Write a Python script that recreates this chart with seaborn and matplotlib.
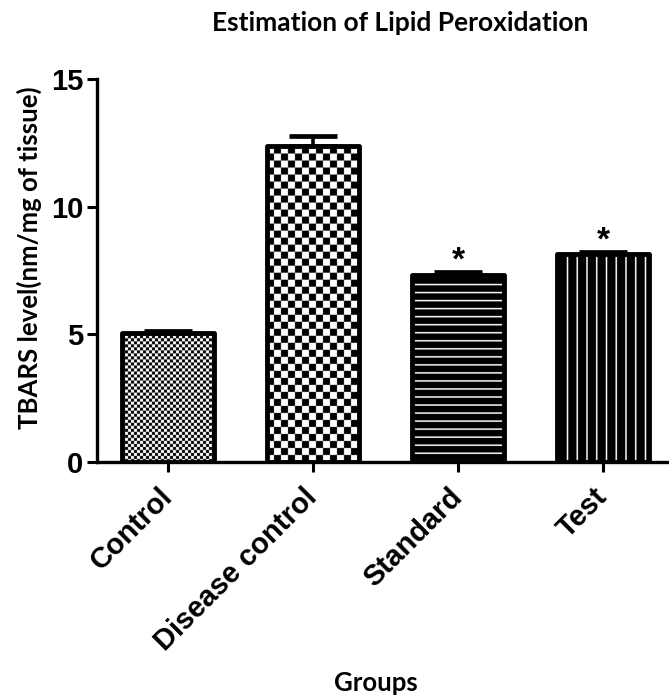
import numpy as np
import matplotlib
matplotlib.use("Agg")
import matplotlib.pyplot as plt
import seaborn as sns

# Group means and SEM of TBARS level (nm/mg of tissue)
groups = ["Control", "Disease control", "Standard", "Test"]
means = [5.05, 12.38, 7.32, 8.14]
sems = [0.10, 0.37, 0.12, 0.08]
marks = ["", "", "*", "*"]
y_ticks = [0, 5, 10, 15]

title = "Estimation of Lipid Peroxidation"
y_title = "TBARS level(nm/mg of tissue)"
x_title = "Groups"

sns.set_style("ticks")
plt.rcParams["font.family"] = ["Liberation Sans", "DejaVu Sans"]
plt.rcParams["text.color"] = "black"
plt.rcParams["xtick.color"] = "black"
plt.rcParams["ytick.color"] = "black"
plt.rcParams["axes.edgecolor"] = "black"

fig = plt.figure(figsize=(6.69, 6.98), dpi=100)
ax = fig.add_axes([0.145, 0.338, 0.855, 0.549])

sns.barplot(x=groups, y=means, color="white", saturation=1, edgecolor="black",
            linewidth=3.5, width=0.64, errorbar=None, ax=ax, zorder=3)

ax.set_xlim(-0.49, 3.455)
ax.set_ylim(0, 15)
ax.set_yticks(y_ticks)

# error bars (upper only)
ax.errorbar(np.arange(len(groups)), means, yerr=[np.zeros(len(sems)), sems],
            fmt="none", ecolor="black", elinewidth=2.6, capsize=17, capthick=3.4,
            zorder=2)

# fill patterns for each bar, clipped to the bar outline
def checker(h, w, s):
    yy, xx = np.mgrid[0:h, 0:w]
    return (((yy // s) + (xx // s)) % 2).astype(float)

def hstripes(h, w, period, thick):
    yy, xx = np.mgrid[0:h, 0:w]
    return np.where((yy % period) < thick, 0.0, 1.0)

def vstripes(h, w, period, thick):
    yy, xx = np.mgrid[0:h, 0:w]
    return np.where((xx % period) < thick, 0.0, 1.0)

ss = 4  # supersampling factor
for i, p in enumerate(ax.patches[:len(groups)]):
    p.set_facecolor("none")
    p.set_joinstyle("round")
    x0, w = p.get_x(), p.get_width()
    h = p.get_height()
    (px0, py0), (px1, py1) = ax.transData.transform([(x0, 0), (x0 + w, h)])
    W = int(abs(px1 - px0) * ss) + 1
    H = int(abs(py1 - py0) * ss) + 1
    if i == 0:
        tex = checker(H, W, int(3.2 * ss))
    elif i == 1:
        tex = checker(H, W, int(7.2 * ss))
    elif i == 2:
        tex = hstripes(H, W, int(8.0 * ss), int(1.5 * ss))
    else:
        tex = vstripes(H, W, int(9.8 * ss), int(1.6 * ss))
    im = ax.imshow(tex, cmap="gray_r", vmin=0, vmax=1, extent=(x0, x0 + w, h, 0),
                   aspect="auto", interpolation="antialiased", zorder=2.5)
    im.set_clip_path(p)

ax.set_xlim(-0.49, 3.455)
ax.set_ylim(0, 15)

# significance marks
for i, m in enumerate(marks):
    if m:
        ax.annotate(m, (i, means[i] + sems[i]), xytext=(0, -3), textcoords="offset points",
                    ha="center", va="bottom", fontsize=24, fontweight="bold")

for s in ["top", "right"]:
    ax.spines[s].set_visible(False)
for s in ["left", "bottom"]:
    ax.spines[s].set_linewidth(2.4)
ax.tick_params(axis="both", length=7, width=2.2, direction="out", pad=3,
               labelsize=21)
for lab in ax.get_yticklabels():
    lab.set_fontweight("bold")
ax.set_xticks(range(len(groups)))
ax.set_xticklabels(groups, rotation=45, ha="right", va="center",
                   rotation_mode="anchor", fontweight="bold", fontsize=21)
ax.tick_params(axis="x", pad=15)
ax.set_xlabel("")
ax.set_ylabel("")

fig.text(0.598, 1 - 23 / 698, title, ha="center", va="center",
         fontsize=19, fontweight="bold", family=["Lato", "DejaVu Sans"])
fig.text(29 / 669, 1 - 258 / 698, y_title, rotation=90, ha="center", va="center",
         fontsize=18.5, fontweight="bold", family=["Lato", "DejaVu Sans"])
fig.text(376 / 669, 1 - 683 / 698, x_title, ha="center", va="center",
         fontsize=18.5, fontweight="bold", family=["Lato", "DejaVu Sans"])

fig.savefig("out.png", dpi=100, facecolor="white")
